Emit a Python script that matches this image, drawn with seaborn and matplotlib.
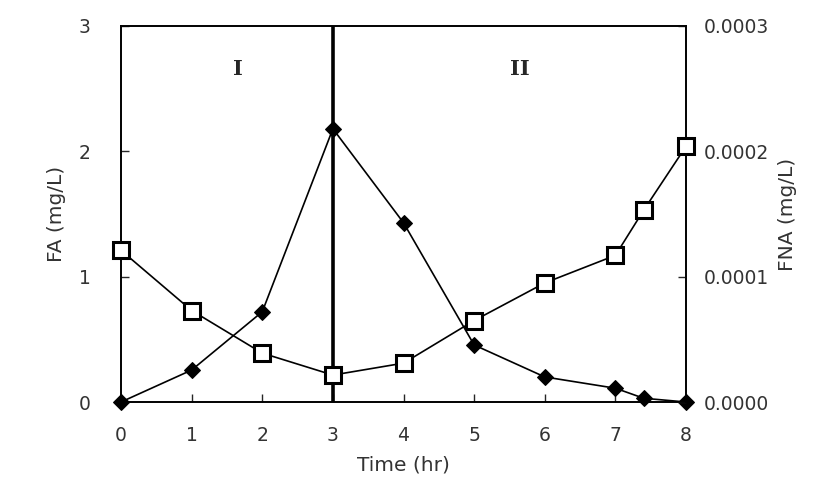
import numpy as np
import pandas as pd
import seaborn as sns
import matplotlib.pyplot as plt
from matplotlib.ticker import FormatStrFormatter

# data
time_hr = [0, 1, 2, 3, 4, 5, 6, 7, 7.4, 8]
fa_mg_l = [0.0, 0.255, 0.72, 2.18, 1.43, 0.455, 0.20, 0.11, 0.03, 0.0]
fna_mg_l = [0.000121, 0.000073, 0.000039, 0.0000215, 0.000031,
            0.000065, 0.000095, 0.000117, 0.000153, 0.000204]
x_ticks = [0, 1, 2, 3, 4, 5, 6, 7, 8]
fa_ticks = [0, 1, 2, 3]
fna_ticks = [0.0, 0.0001, 0.0002, 0.0003]
phase_split = 3
phase_labels = [("I", 1.66, 2.66), ("II", 5.65, 2.66)]

df = pd.DataFrame({"Time": time_hr, "FA": fa_mg_l, "FNA": fna_mg_l})

sns.set_style("ticks")
plt.rcParams['font.family'] = ['DejaVu Sans']
tick_color = "#333333"

fig = plt.figure(figsize=(8.21, 4.84), dpi=100)
ax = fig.add_axes([0.1474, 0.1694, 0.6882, 0.7769])
ax2 = ax.twinx()

# FA - filled diamonds
sns.lineplot(data=df, x="Time", y="FA", ax=ax, color="black", lw=1.2,
             marker="D", markersize=8, markeredgecolor="black",
             zorder=4, clip_on=False)
# FNA - open squares
sns.lineplot(data=df, x="Time", y="FNA", ax=ax2, color="black", lw=1.2,
             marker="s", markersize=11, markerfacecolor="white",
             markeredgecolor="black", markeredgewidth=2.2,
             zorder=4, clip_on=False)

# phase separator
ax.axvline(phase_split, color="black", lw=2.6, zorder=2)
for txt, xx, yy in phase_labels:
    ax.text(xx, yy, txt, family="DejaVu Serif", fontweight="bold",
            fontsize=15, ha="center", va="center")

ax.set_xlim(0, 8)
ax.set_ylim(0, 3)
ax2.set_ylim(0, 0.0003)
ax.set_xticks(x_ticks)
ax.set_yticks(fa_ticks)
ax2.set_yticks(fna_ticks)
ax2.yaxis.set_major_formatter(FormatStrFormatter("%.4f"))

ax.set_xlabel("Time (hr)", fontsize=14.5, color=tick_color, labelpad=8)
ax.set_ylabel("FA (mg/L)", fontsize=14.5, color=tick_color, labelpad=9)
ax2.set_ylabel("FNA (mg/L)", fontsize=14.5, color=tick_color, labelpad=6)

for a in (ax, ax2):
    a.tick_params(direction="in", length=6, width=1, labelsize=13.5,
                  labelcolor=tick_color, pad=13)
    for s in a.spines.values():
        s.set_visible(True)
        s.set_linewidth(1.2)
        s.set_color("black")
ax.tick_params(axis="y", pad=22)
ax.tick_params(axis="x", pad=17)

fig.savefig("out.png", dpi=100)
